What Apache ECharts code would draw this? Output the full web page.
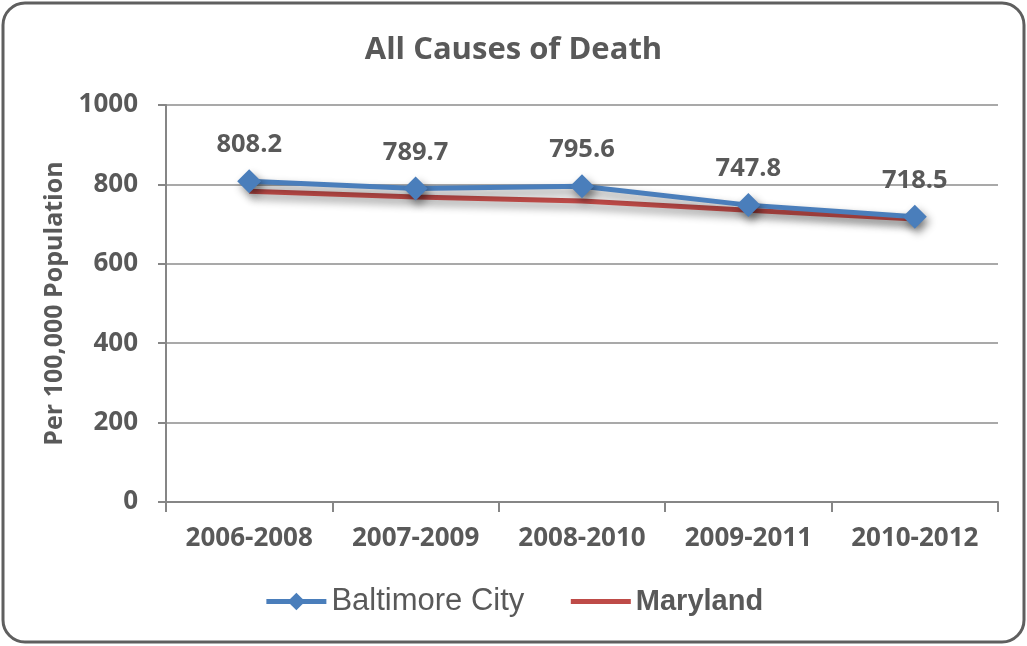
<!DOCTYPE html>
<html><head><meta charset="utf-8">
<script src="https://cdn.jsdelivr.net/npm/echarts@6/dist/echarts.min.js"></script>
<style>html,body{margin:0;padding:0;background:#fff}#c{width:1027px;height:646px}</style>
</head><body><div id="c"></div>
<script>
const categories = ['2006-2008','2007-2009','2008-2010','2009-2011','2010-2012'];
const baltimoreCity = [808.2, 789.7, 795.6, 747.8, 718.5];
const maryland = [783, 768, 758, 735, 713];
const yTicks = {min: 0, max: 1000, interval: 200};

const chart = echarts.init(document.getElementById('c'));
const txt = '#595959';
const shadow = {shadowBlur: 8, shadowColor: 'rgba(0,0,0,0.45)', shadowOffsetX: 3, shadowOffsetY: 5};
chart.setOption({
  animation: false,
  backgroundColor: '#fff',
  graphic: [{type: 'rect', shape: {x: 3, y: 3, width: 1021, height: 639, r: 22},
    style: {fill: 'none', stroke: '#5f5f5f', lineWidth: 3}, z: 100}],
  title: {text: 'All Causes of Death', left: 'center', top: 30,
    textStyle: {fontFamily: 'Open Sans', fontWeight: 'bold', fontSize: 31, color: txt}},
  grid: {left: 166, right: 29, top: 105, bottom: 144},
  legend: {bottom: 24, left: 'center', itemWidth: 60, itemHeight: 22, itemGap: 44,
    data: ['Baltimore City', {name: 'Maryland', itemStyle: {opacity: 0}}],
    lineStyle: {width: 5},
    formatter: n => n === 'Maryland' ? '{b|' + n + '}' : '{n|' + n + '}',
    textStyle: {color: txt, rich: {
      n: {fontFamily: 'Liberation Sans', fontSize: 31, color: txt},
      b: {fontFamily: 'Liberation Sans', fontWeight: 'bold', fontSize: 29, color: txt}}}},
  xAxis: {type: 'category', data: categories, boundaryGap: true,
    axisLine: {lineStyle: {color: '#868686', width: 2}},
    axisTick: {show: true, length: 10, lineStyle: {color: '#868686', width: 2}},
    axisLabel: {margin: 24, fontFamily: 'Open Sans', fontWeight: 'bold', fontSize: 26, color: txt}},
  yAxis: {type: 'value', min: yTicks.min, max: yTicks.max, interval: yTicks.interval,
    name: 'Per 100,000 Population', nameLocation: 'middle', nameRotate: 90, nameGap: 95,
    nameTextStyle: {fontFamily: 'Open Sans', fontWeight: 'bold', fontSize: 25, color: txt},
    axisLine: {show: true, lineStyle: {color: '#868686', width: 2}},
    axisTick: {show: true, length: 8, lineStyle: {color: '#868686', width: 2}},
    splitLine: {lineStyle: {color: '#8c8c8c', width: 1.5}},
    axisLabel: {margin: 28, formatter: v => String(v), fontFamily: 'Open Sans', fontWeight: 'bold', fontSize: 26, color: txt}},
  series: [
    {name: 'Maryland', type: 'line', data: maryland, symbol: 'none', z: 2,
      itemStyle: {color: '#be4b48'},
      lineStyle: Object.assign({color: '#be4b48', width: 5}, shadow)},
    {name: 'Baltimore City', type: 'line', data: baltimoreCity, symbol: 'diamond', symbolSize: 24, z: 3,
      itemStyle: Object.assign({color: '#4a7ebb'}, shadow),
      lineStyle: Object.assign({color: '#4a7ebb', width: 5}, shadow),
      label: {show: true, position: 'top', distance: 11, formatter: p => p.value.toFixed(1),
        fontFamily: 'Open Sans', fontWeight: 'bold', fontSize: 25.5, color: txt}}
  ]
});
</script></body></html>
